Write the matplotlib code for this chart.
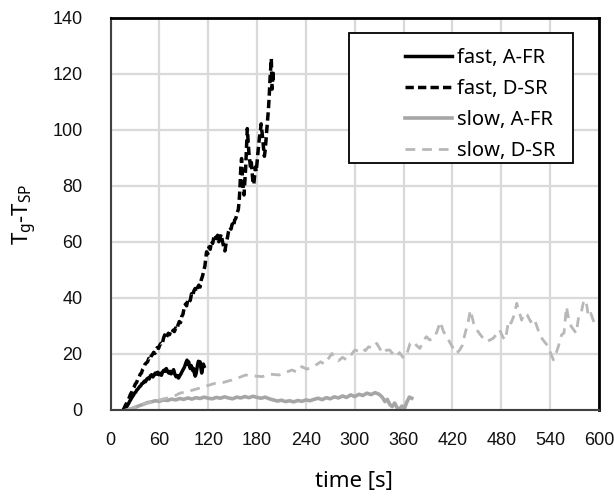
import matplotlib
matplotlib.use("Agg")
import matplotlib.pyplot as plt
from matplotlib.patches import Rectangle

# ---------------- data ----------------
fast_dsr_t = [15.5, 17, 18.5, 20, 21.5, 23, 24.5, 26, 27.5, 29, 30.5, 32, 33.5, 35, 36.5, 38, 39.5, 41, 42.5, 44,
              45.5, 47, 48.5, 50, 51.5, 53, 54.5, 56, 57.5, 59, 60.5, 62, 63.5, 65, 66.5, 68, 69.5, 71, 72.5, 74,
              75.5, 77, 78.5, 80, 81.5, 83, 84.5, 86, 87.5, 89, 90.5, 92, 93.5, 95, 96.5, 98, 99.5, 101, 102.5, 104,
              105.5, 107, 108.5, 110, 111.5, 113, 114.5, 116, 117, 118, 119.5, 121, 122.5, 124, 125.5, 127, 128.5, 130, 131.5, 133,
              134.5, 136, 137.5, 139, 140.5, 142, 143.5, 145, 146.5, 148, 149.5, 151, 152.5, 154, 155.5, 157, 158, 159, 160, 161,
              162, 163, 164, 165, 166, 167, 168, 169, 170, 171, 172, 173, 174, 175, 176, 177, 178, 179, 180, 181,
              182, 183, 184, 185, 186, 187, 188, 189, 190, 191, 192, 193, 194, 195, 196, 197, 197.5, 198, 198.5, 199,
              199.5, 200]
fast_dsr_v = [0, 0.8, 1.8, 2.5, 3.6, 4.4, 5.6, 6.3, 7.5, 8.2, 9.3, 9.8, 11, 11.6, 12.8, 13.2, 14.5, 15.2, 16.4, 16.8,
              17.2, 18.4, 18, 19.3, 19.8, 20.6, 20.2, 21.5, 22.3, 22, 23.2, 23.8, 23.4, 25.5, 26.8, 25.6, 26.5, 27.4, 26.9, 28.2,
              27.6, 28.5, 28, 29.3, 28.8, 30.4, 31.6, 31.2, 33.4, 34.2, 36.5, 37.8, 37.2, 39.4, 38.6, 39.2, 41.5, 40.8, 42.6, 43.4,
              42.2, 43.8, 44.6, 43.9, 46.5, 47.8, 49.6, 51.5, 54.2, 56.5, 55.8, 58.2, 57.4, 60.3, 59.5, 61.8, 62.6, 61.2, 62.4, 60.1,
              61.5, 62.8, 60.2, 58.4, 56.8, 59.5, 61.4, 63.8, 65.2, 64.6, 66.4, 65.5, 67.8, 68.5, 70.4, 71.6, 74.5, 79.2, 86.5, 89.8,
              83.5, 79.6, 76.8, 81.5, 86.4, 93.2, 100.5, 96.4, 91.8, 89.2, 86.5, 88.4, 84.6, 81.2, 80.5, 83.6, 86.8, 85.2, 88.4, 91.6,
              94.8, 97.5, 99.2, 102.2, 99.5, 96.8, 93.4, 90.6, 92.8, 96.4, 99.6, 103.2, 107.5, 112.4, 118.6, 123.5, 125.5, 119.2, 114.6, 117.8,
              121.2, 116.4]

fast_afr_t = [17.5, 19, 20.5, 22, 23.5, 25, 26.5, 28, 29.5, 31, 32.5, 34, 35.5, 37, 38.5, 40, 41.5, 43, 44.5, 46,
              47.5, 49, 50.5, 52, 53.5, 55, 56.5, 58, 59.5, 61, 62.5, 64, 65.5, 67, 68.5, 70, 71.5, 73, 74.5, 76,
              77.5, 79, 80.5, 82, 83.5, 85, 86.5, 88, 89.5, 91, 92.5, 94, 95, 96, 97, 98, 99, 100, 101, 102,
              103, 104, 105, 106, 107, 108, 109, 110, 111, 112, 113, 114, 115]
fast_afr_v = [0, 0.6, 1.5, 2.2, 3.1, 3.8, 4.6, 5.2, 6, 6.4, 7.2, 7.6, 8.3, 8.6, 9.4, 9.6, 10.3, 10.1, 11, 11.4,
              11.1, 12.2, 12.6, 11.8, 12.4, 13.2, 12.8, 13.5, 12.6, 13.1, 12.4, 13.6, 14.2, 13.8, 14.8, 13.9, 13.2, 13.8, 12.9, 13.6,
              14.4, 12.8, 11.9, 12.3, 11.4, 12.2, 12.9, 13.8, 14.6, 15.4, 16.8, 17.8, 16.4, 17.2, 15.6, 14.8, 15.9, 15.2, 14.1, 14.8,
              13.2, 12.1, 12.8, 14.5, 16.2, 17.4, 16.6, 17.2, 15.1, 13.2, 14.8, 16.4, 15.6]

slow_afr_t = [20, 25, 30, 35, 40, 45, 50, 55, 60, 65, 70, 75, 80, 85, 90, 95, 100, 105, 110, 115,
              120, 125, 130, 135, 140, 145, 150, 155, 160, 165, 170, 175, 180, 185, 190, 195, 200, 205, 210, 215,
              220, 225, 230, 235, 240, 245, 250, 255, 260, 265, 270, 275, 280, 285, 290, 295, 300, 305, 310, 315,
              320, 325, 330, 334, 337, 340, 343, 346, 349, 352, 355, 358, 361, 364, 367, 370]
slow_afr_v = [0, 0.4, 0.9, 1.5, 2.0, 2.6, 2.9, 3.3, 3.1, 3.6, 3.4, 3.9, 3.6, 4.1, 3.8, 4.3, 3.9, 4.4, 4.1, 4.6,
              4.2, 4.0, 4.5, 4.2, 4.7, 4.3, 4.0, 4.6, 4.3, 4.8, 4.4, 4.9, 4.5, 4.2, 4.6, 4.0, 3.6, 3.2, 3.5, 3.0,
              3.3, 2.9, 3.4, 3.1, 3.6, 3.3, 3.8, 4.2, 3.7, 4.4, 4.0, 4.7, 4.3, 5.0, 4.5, 5.4, 4.8, 5.6, 5.2, 6.0,
              5.5, 6.2, 5.6, 4.5, 3.0, 3.8, 2.0, 1.2, 2.5, 0.8, 0.4, 1.4, 0.5, 2.8, 4.6, 4.2]

slow_dsr_t = [20, 30, 40, 50, 60, 70, 80, 85, 95, 108, 118, 128, 138, 149, 157, 166, 176, 186, 196, 207,
              215, 223, 229, 235, 241, 247, 253, 258, 263, 268, 272, 276, 280, 285, 290, 295, 300, 305, 309, 313,
              317, 322, 327, 331, 335, 339, 343, 347, 351, 355, 360, 364, 368, 372, 376, 380, 384, 388, 392, 397,
              401, 405, 409, 413, 417, 421, 425, 429, 432, 436, 439, 442, 446, 450, 454, 458, 462, 466, 470, 474,
              478, 482, 485, 489, 492, 495, 499, 502, 505, 508, 512, 516, 520, 523, 526, 530, 534, 538, 541, 544,
              547, 550, 554, 557, 560, 563, 566, 569, 572, 575, 578, 581, 584, 587, 590, 593, 596]
slow_dsr_v = [0, 1, 2, 2.8, 3.6, 4.3, 5.2, 6, 6.6, 7.7, 8.6, 9.5, 9.8, 10.7, 11.5, 12.5, 12.2, 11.9, 12.8, 12.5,
              13.4, 14.3, 13.5, 15.5, 14.6, 15.2, 16.2, 17.2, 16.4, 18.5, 20.2, 18.5, 17.6, 18.8, 17.9, 19.5, 21.4, 21, 22, 21.2,
              22.6, 22, 23.8, 21.8, 20.2, 21.4, 21.4, 20, 19, 20.5, 18.5, 20, 23.8, 24.5, 23, 22, 24.5, 26.2, 25, 25.6,
              28, 31.5, 28, 26.2, 24, 22, 20.2, 21.5, 23, 27.9, 31, 35.7, 31, 28.6, 27, 25.5, 24.4, 25, 25.6, 27,
              28.6, 26, 25, 32, 31, 33.3, 38.1, 35, 32.1, 34.5, 33.9, 31.5, 32.7, 30.5, 27.9, 25.5, 24, 22.6, 20, 17.9,
              20, 22.6, 26.8, 27.5, 36.9, 32.1, 29.8, 28.6, 27.4, 33.3, 34.5, 38.7, 39.3, 33.3, 34.5, 32, 30]

labels = ["fast, A-FR", "fast, D-SR", "slow, A-FR", "slow, D-SR"]
x_ticks = [0, 60, 120, 180, 240, 300, 360, 420, 480, 540, 600]
y_ticks = [0, 20, 40, 60, 80, 100, 120, 140]

# ---------------- figure ----------------
W, H = 614, 497
fig = plt.figure(figsize=(W / 100, H / 100), dpi=100)
ax = fig.add_axes([110.5 / W, 1 - 410 / H, (599 - 110.5) / W, (410 - 18) / H])

gray = "#A6A6A6"
lgray = "#B8B8B8"
ax.plot(fast_afr_t, fast_afr_v, color="black", lw=2.5, label=labels[0], solid_joinstyle="round")
ax.plot(fast_dsr_t, fast_dsr_v, color="black", lw=2.5, ls=(0, (2.4, 1.2)), label=labels[1])
ax.plot(slow_afr_t, slow_afr_v, color=gray, lw=2.6, label=labels[2], solid_joinstyle="round")
ax.plot(slow_dsr_t, slow_dsr_v, color=lgray, lw=2.0, ls=(0, (3.5, 2.5)), label=labels[3])

ax.set_xlim(0, 600)
ax.set_ylim(0, 140)
ax.set_xticks(x_ticks)
ax.set_yticks(y_ticks)
ax.grid(True, color="#D9D9D9", lw=1.6)
ax.set_axisbelow(True)
ax.tick_params(length=0, labelsize=13, colors="#111111")
ax.tick_params(axis="y", pad=20)
ax.tick_params(axis="x", pad=16)
for lab in ax.get_xticklabels() + ax.get_yticklabels():
    lab.set_family("Liberation Sans")
for s in ["left", "bottom"]:
    ax.spines[s].set_color("#404040")
    ax.spines[s].set_linewidth(1.5)
for s in ["top", "right"]:
    ax.spines[s].set_color("black")
    ax.spines[s].set_linewidth(2.0)

fig.text(354 / W, 1 - 482 / H, "time [s]", fontsize=16, family="Noto Sans",
         ha="center", va="center")
fig.text(25 / W, 1 - 214 / H, r"T$_\mathregular{g}$-T$_\mathregular{SP}$", rotation=90,
         fontsize=16, family="Noto Sans", ha="center", va="center")

# legend with manually drawn box
box = Rectangle((349 / W, 1 - 163 / H), (573 - 349) / W, (163 - 33) / H,
                transform=fig.transFigure, facecolor="white",
                edgecolor="black", lw=1.3, zorder=4, clip_on=False)
ax.add_patch(box)
leg = ax.legend(loc="upper left", bbox_to_anchor=(395 / W, 1 - 38 / H),
                bbox_transform=fig.transFigure, frameon=False, borderpad=0,
                handlelength=2.33, handletextpad=0.25, labelspacing=0.54,
                prop={"family": "Noto Sans", "size": 14.5})
leg.set_zorder(5)

fig.savefig("out.png", dpi=100)
